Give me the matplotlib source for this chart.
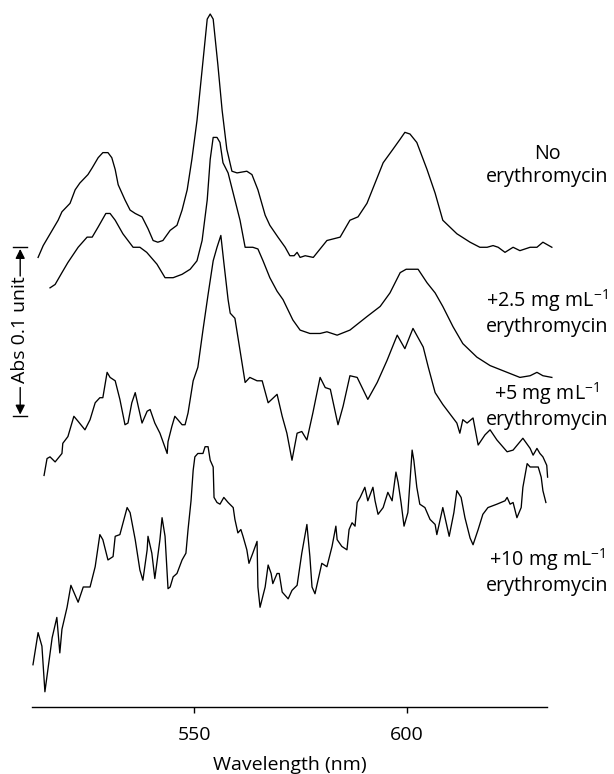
import matplotlib
matplotlib.use("Agg")
import matplotlib.pyplot as plt

plt.rcParams['font.family'] = ['Open Sans', 'DejaVu Sans']
plt.rcParams['mathtext.fontset'] = 'custom'
plt.rcParams['mathtext.rm'] = 'Open Sans'
plt.rcParams['mathtext.it'] = 'Open Sans:italic'

# ---- data (wavelength in nm, absorbance with stacking offsets) ----
wl_none = [513.4, 514.6, 516.7, 518.1, 519.0, 520.9, 522.1, 523.2, 525.1, 526.1, 527.5, 528.6,
           529.8, 530.7, 531.5, 532.2, 533.8, 535.0, 536.2, 537.8, 539.2, 540.4, 541.5, 542.7,
           544.4, 546.0, 547.2, 548.4, 549.5, 550.7, 551.9, 553.1, 553.8, 554.5, 555.6, 556.6,
           557.7, 558.9, 560.1, 562.4, 563.6, 565.0, 566.7, 567.8, 569.7, 571.4, 572.5, 573.5,
           574.2, 574.9, 576.1, 578.0, 581.2, 584.3, 586.6, 588.5, 590.6, 594.4, 596.7, 598.4,
           599.5, 600.7, 602.3, 604.7, 606.6, 608.4, 611.7, 614.8, 617.1, 618.8, 620.2, 621.4,
           623.0, 624.9, 626.5, 628.9, 630.5, 631.9, 634.0]
abs_none = [0.266, 0.273, 0.282, 0.288, 0.293, 0.298, 0.306, 0.310, 0.315, 0.319, 0.325, 0.328,
            0.328, 0.325, 0.318, 0.309, 0.300, 0.294, 0.292, 0.290, 0.283, 0.276, 0.275, 0.276,
            0.282, 0.285, 0.294, 0.306, 0.324, 0.347, 0.377, 0.407, 0.410, 0.407, 0.380, 0.353,
            0.330, 0.317, 0.316, 0.317, 0.315, 0.306, 0.291, 0.285, 0.278, 0.272, 0.267, 0.267,
            0.269, 0.266, 0.267, 0.266, 0.276, 0.278, 0.288, 0.290, 0.298, 0.322, 0.330, 0.336,
            0.340, 0.339, 0.334, 0.318, 0.304, 0.288, 0.280, 0.275, 0.272, 0.272, 0.273, 0.272,
            0.269, 0.272, 0.270, 0.272, 0.272, 0.275, 0.272]

wl_2_5 = [516.2, 517.4, 519.0, 520.4, 522.8, 524.9, 526.1, 527.5, 529.3, 530.3, 531.5, 533.3,
          535.7, 537.3, 538.9, 541.3, 543.2, 545.1, 547.2, 549.1, 550.7, 551.9, 553.1, 553.8,
          554.5, 555.4, 556.1, 556.8, 558.0, 559.2, 560.8, 562.0, 563.8, 565.0, 566.2, 567.8,
          569.5, 570.9, 573.2, 574.9, 577.2, 579.6, 581.2, 583.6, 586.6, 590.6, 593.7, 596.0,
          598.4, 599.8, 602.6, 604.7, 606.6, 608.4, 610.8, 613.1, 616.4, 619.5, 622.5, 626.5,
          628.9, 630.5, 631.9, 634.0]
abs_2_5 = [0.248, 0.250, 0.257, 0.263, 0.272, 0.278, 0.278, 0.284, 0.292, 0.292, 0.288, 0.280,
           0.272, 0.272, 0.269, 0.262, 0.254, 0.254, 0.256, 0.259, 0.264, 0.276, 0.300, 0.324,
           0.337, 0.337, 0.334, 0.322, 0.316, 0.304, 0.288, 0.272, 0.272, 0.271, 0.264, 0.254,
           0.246, 0.241, 0.229, 0.223, 0.221, 0.221, 0.222, 0.220, 0.223, 0.231, 0.237, 0.245,
           0.257, 0.259, 0.259, 0.251, 0.245, 0.237, 0.225, 0.215, 0.207, 0.202, 0.199, 0.195,
           0.196, 0.198, 0.196, 0.195]

wl_5 = [514.8, 515.5, 516.2, 517.4, 519.0, 519.2, 520.4, 521.8, 522.8, 524.4, 525.6, 526.8,
        527.9, 528.6, 529.6, 530.3, 531.5, 532.6, 533.8, 534.5, 535.4, 536.2, 536.9, 537.8,
        539.0, 539.7, 540.8, 542.0, 543.7, 543.9, 544.8, 545.5, 546.2, 547.2, 547.9, 548.6,
        549.8, 550.9, 552.1, 553.3, 554.5, 555.4, 556.3, 557.0, 558.0, 558.5, 559.6, 560.8,
        562.0, 563.1, 564.8, 566.0, 567.4, 569.5, 570.7, 571.8, 573.0, 574.2, 575.3, 576.5,
        577.9, 579.6, 580.8, 582.0, 583.8, 585.0, 586.6, 588.3, 590.8, 593.0, 595.3, 597.7,
        599.5, 601.4, 603.8, 605.0, 606.6, 608.4, 611.7, 612.4, 613.1, 614.1, 615.5, 616.7,
        618.3, 619.5, 621.1, 623.5, 624.9, 627.2, 628.9, 629.6, 630.5, 631.2, 631.9, 632.8,
        633.0]
abs_5 = [0.137, 0.147, 0.148, 0.145, 0.150, 0.156, 0.160, 0.172, 0.169, 0.164, 0.170, 0.180,
         0.183, 0.183, 0.198, 0.195, 0.193, 0.182, 0.167, 0.168, 0.180, 0.186, 0.178, 0.168,
         0.175, 0.176, 0.168, 0.162, 0.150, 0.157, 0.166, 0.172, 0.170, 0.167, 0.167, 0.174,
         0.193, 0.201, 0.223, 0.244, 0.264, 0.272, 0.279, 0.263, 0.241, 0.233, 0.230, 0.211,
         0.192, 0.195, 0.193, 0.193, 0.180, 0.185, 0.172, 0.162, 0.146, 0.162, 0.163, 0.158,
         0.174, 0.195, 0.189, 0.188, 0.167, 0.178, 0.196, 0.195, 0.182, 0.192, 0.205, 0.220,
         0.212, 0.224, 0.213, 0.201, 0.186, 0.179, 0.168, 0.162, 0.170, 0.168, 0.171, 0.155,
         0.161, 0.164, 0.158, 0.151, 0.152, 0.159, 0.153, 0.149, 0.153, 0.150, 0.148, 0.143,
         0.136]

wl_10 = [512.2, 513.4, 514.3, 515.0, 515.7, 516.7, 517.8, 518.5, 519.0, 520.2, 521.1, 522.8,
         524.0, 525.6, 526.8, 527.9, 528.6, 529.8, 531.0, 531.5, 532.6, 534.3, 535.0, 536.2,
         537.3, 538.0, 539.0, 539.2, 540.1, 540.8, 542.0, 542.5, 543.2, 543.9, 544.4, 545.1,
         546.0, 547.2, 548.1, 548.6, 549.3, 549.8, 550.2, 550.9, 552.1, 552.6, 553.3, 553.8,
         554.5, 554.7, 555.4, 556.1, 557.0, 558.0, 559.2, 559.6, 560.3, 561.0, 561.5, 562.4,
         562.9, 563.8, 564.8, 565.0, 565.5, 566.7, 567.4, 568.1, 568.5, 569.5, 570.0, 570.7,
         572.1, 573.0, 574.2, 575.3, 576.5, 577.2, 577.7, 578.4, 579.1, 580.0, 581.2, 582.4,
         583.3, 583.6, 584.7, 585.9, 586.4, 587.1, 587.8, 588.3, 589.0, 590.1, 590.8, 592.0,
         592.5, 593.2, 594.4, 595.5, 596.5, 597.4, 597.9, 598.6, 599.3, 600.2, 601.2, 601.6,
         602.3, 603.0, 604.2, 605.4, 606.6, 607.0, 608.4, 609.2, 609.9, 611.0, 611.7, 612.7,
         613.6, 614.8, 615.5, 616.7, 617.8, 619.0, 621.1, 623.0, 623.5, 624.2, 624.9, 625.8,
         626.8, 627.2, 628.2, 628.9, 630.8, 631.5, 631.9, 632.6]
abs_10 = [0.025, 0.044, 0.036, 0.009, 0.022, 0.041, 0.053, 0.032, 0.046, 0.059, 0.072, 0.062,
          0.071, 0.071, 0.083, 0.102, 0.099, 0.087, 0.089, 0.101, 0.102, 0.118, 0.115, 0.099,
          0.081, 0.075, 0.093, 0.101, 0.091, 0.076, 0.099, 0.112, 0.101, 0.070, 0.071, 0.077,
          0.079, 0.087, 0.091, 0.105, 0.122, 0.140, 0.148, 0.150, 0.150, 0.154, 0.154, 0.146,
          0.142, 0.124, 0.121, 0.120, 0.124, 0.121, 0.118, 0.111, 0.103, 0.105, 0.101, 0.093,
          0.085, 0.091, 0.098, 0.071, 0.059, 0.071, 0.084, 0.079, 0.073, 0.079, 0.079, 0.068,
          0.064, 0.069, 0.072, 0.091, 0.108, 0.089, 0.071, 0.067, 0.075, 0.085, 0.083, 0.095,
          0.107, 0.099, 0.095, 0.093, 0.105, 0.109, 0.107, 0.121, 0.124, 0.130, 0.122, 0.130,
          0.122, 0.114, 0.118, 0.127, 0.122, 0.139, 0.133, 0.121, 0.107, 0.115, 0.152, 0.146,
          0.130, 0.120, 0.118, 0.111, 0.108, 0.102, 0.118, 0.109, 0.101, 0.115, 0.128, 0.124,
          0.112, 0.100, 0.096, 0.105, 0.114, 0.118, 0.120, 0.122, 0.124, 0.120, 0.121, 0.112,
          0.118, 0.130, 0.144, 0.142, 0.142, 0.136, 0.128, 0.121]

labels = ["No\nerythromycin",
          "+2.5 mg mL$^{-1}$\nerythromycin",
          "+5 mg mL$^{-1}$\nerythromycin",
          "+10 mg mL$^{-1}$\nerythromycin"]
label_y = [0.3205, 0.2335, 0.1785, 0.0805]
xticks = [550, 600]
scale_bar = 0.1  # absorbance units
scale_bottom = 0.172

# ---- figure ----
fig = plt.figure(figsize=(6.14, 7.74), dpi=100)
ax = fig.add_axes([32 / 614, 67 / 774, 515 / 614, 707 / 774])
ax.set_xlim(511.97, 632.86)
ax.set_ylim(0, 0.4183)

for wl, ab in [(wl_none, abs_none), (wl_2_5, abs_2_5), (wl_5, abs_5), (wl_10, abs_10)]:
    ax.plot(wl, ab, color='black', lw=0.95, clip_on=False, solid_joinstyle='round')

for lab, y in zip(labels, label_y):
    ax.text(632.9, y, lab, ha='center', va='center', fontsize=14.2, linespacing=1.2,
            multialignment='center')

for s in ['left', 'top', 'right']:
    ax.spines[s].set_visible(False)
ax.spines['bottom'].set_linewidth(1.0)
ax.set_yticks([])
ax.set_xticks(xticks)
ax.set_xticklabels([str(t) for t in xticks], fontsize=14)
ax.tick_params(axis='x', direction='out', length=4, width=1, pad=10)
ax.set_xlabel("Wavelength (nm)", fontsize=14, labelpad=8)

# scale bar: 0.1 absorbance unit
xs = 509.2
top = scale_bottom + scale_bar
ax.plot([xs - 1.6, xs + 1.6], [top, top], color='black', lw=1, clip_on=False)
ax.plot([xs - 1.6, xs + 1.6], [scale_bottom, scale_bottom], color='black', lw=1, clip_on=False)
mid = (top + scale_bottom) / 2
ax.text(xs, mid + 0.0015, "Abs 0.1 unit", rotation=90, ha='center', va='center', fontsize=14)
ax.annotate('', xy=(xs, top - 0.001), xytext=(xs, top - 0.017),
            arrowprops=dict(arrowstyle='-|>', color='black', lw=1, mutation_scale=14,
                            shrinkA=0, shrinkB=0), annotation_clip=False)
ax.annotate('', xy=(xs, scale_bottom + 0.001), xytext=(xs, scale_bottom + 0.017),
            arrowprops=dict(arrowstyle='-|>', color='black', lw=1, mutation_scale=14,
                            shrinkA=0, shrinkB=0), annotation_clip=False)

fig.savefig("out.png", dpi=100)
